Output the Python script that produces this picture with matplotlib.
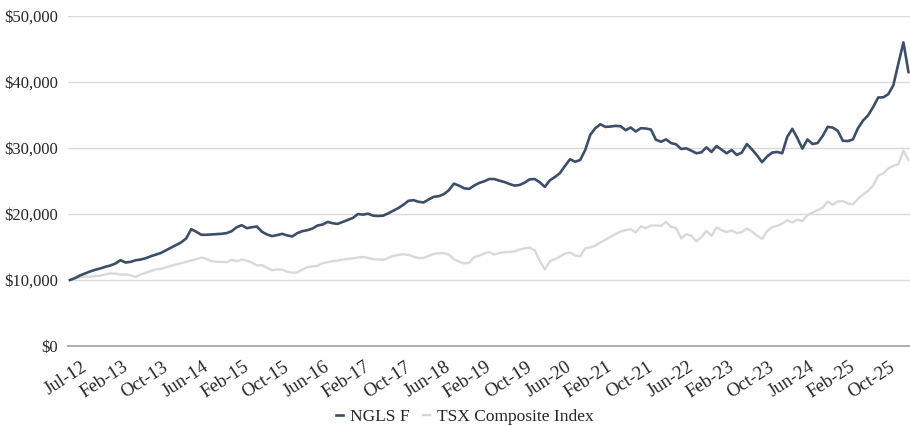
import matplotlib.pyplot as plt
from matplotlib.transforms import ScaledTranslation
from matplotlib.ticker import FuncFormatter

# Growth of $10,000, monthly values
ngls = [
    10000, 10300, 10700, 11000, 11300, 11550, 11750, 12000, 12200, 12500,
    13000, 12650, 12750, 13000, 13100, 13300, 13600, 13850, 14100, 14500,
    14900, 15300, 15700, 16300, 17700, 17300, 16850, 16850, 16900, 16950,
    17000, 17100, 17400, 18000, 18300, 17850, 18000, 18100, 17300, 16900,
    16650, 16800, 17000, 16750, 16600, 17100, 17400, 17550, 17800, 18250,
    18400, 18800, 18600, 18500, 18800, 19100, 19400, 20000, 19900, 20050,
    19750, 19700, 19750, 20100, 20500, 20900, 21400, 22000, 22100, 21850,
    21750, 22200, 22600, 22700, 23000, 23600, 24600, 24300, 23900, 23800,
    24300, 24700, 24950, 25300, 25300, 25050, 24850, 24550, 24300, 24400,
    24750, 25250, 25300, 24800, 24100, 25100, 25600, 26200, 27300, 28300,
    27920, 28180, 29700, 32000, 33000, 33600, 33200, 33250, 33350, 33300,
    32700, 33100, 32500, 33000, 32950, 32800, 31250, 30950, 31300, 30750,
    30550, 29850, 29950, 29600, 29200, 29350, 30100, 29400, 30300, 29750,
    29200, 29700, 28950, 29300, 30600, 29800, 28900, 27850, 28700, 29300,
    29400, 29200, 31700, 32900, 31500, 29900, 31300, 30600, 30750, 31800,
    33200, 33100, 32600, 31100, 31050, 31300, 33000, 34150, 34950, 36200,
    37650, 37680, 38150, 39500, 42800, 46000, 41500,
]

tsx = [
    10000, 10200, 10400, 10500, 10500, 10600, 10650, 10850, 11000, 10950,
    10800, 10850, 10700, 10450, 10850, 11100, 11350, 11600, 11700, 11900,
    12150, 12350, 12550, 12750, 12950, 13150, 13400, 13200, 12850, 12750,
    12750, 12700, 13050, 12850, 13100, 12950, 12650, 12200, 12250, 11850,
    11500, 11600, 11550, 11250, 11100, 11150, 11600, 11950, 12050, 12150,
    12550, 12700, 12850, 12950, 13100, 13200, 13280, 13400, 13500, 13350,
    13150, 13100, 13050, 13350, 13650, 13800, 13900, 13800, 13550, 13300,
    13350, 13650, 13950, 14050, 14050, 13850, 13150, 12800, 12500, 12600,
    13450, 13700, 14000, 14250, 13850, 14100, 14200, 14250, 14350, 14600,
    14800, 14900, 14500, 12900, 11600, 12850, 13150, 13550, 14000, 14150,
    13700, 13600, 14800, 14950, 15200, 15700, 16100, 16550, 16950, 17350,
    17550, 17700, 17200, 18150, 17850, 18250, 18250, 18200, 18800, 18050,
    17850, 16300, 16950, 16700, 15850, 16500, 17450, 16700, 17950, 17550,
    17250, 17500, 17100, 17250, 17800, 17350, 16750, 16200, 17400, 18000,
    18200, 18550, 19050, 18700, 19150, 18900, 19850, 20200, 20600, 20950,
    21900, 21400, 21900, 21950, 21600, 21450, 22300, 22950, 23500, 24300,
    25800, 26150, 26900, 27300, 27550, 29600, 28200,
]

tick_labels = ["Jul-12", "Feb-13", "Oct-13", "Jun-14", "Feb-15", "Oct-15",
               "Jun-16", "Feb-17", "Oct-17", "Jun-18", "Feb-19", "Oct-19",
               "Jun-20", "Feb-21", "Oct-21", "Jun-22", "Feb-23", "Oct-23",
               "Jun-24", "Feb-25", "Oct-25"]
tick_step = 8

plt.rcParams['font.family'] = ['Liberation Serif', 'DejaVu Serif']

fig = plt.figure(figsize=(9.1, 4.26), dpi=100)
ax = fig.add_axes([68 / 910, 80 / 426, 842 / 910, 330 / 426])

x = range(len(ngls))
ax.plot(x, tsx, color='#D9D9D9', lw=1.7, label='TSX Composite Index', zorder=3)
ax.plot(x, ngls, color='#3C4E68', lw=1.9, label='NGLS F', zorder=4)

ax.set_xlim(-0.4, 166.3)
ax.set_ylim(0, 50000)
ax.set_yticks(range(0, 50001, 10000))
ax.yaxis.set_major_formatter(FuncFormatter(lambda v, p: f"${v:,.0f}"))
ax.grid(axis='y', color='#D9D9D9', lw=1)
ax.set_axisbelow(True)

for s in ['top', 'right', 'left']:
    ax.spines[s].set_visible(False)
ax.spines['bottom'].set_color('#A6A6A6')
ax.spines['bottom'].set_linewidth(1.3)
ax.spines['bottom'].set_zorder(2)

ax.set_xticks([i * tick_step for i in range(len(tick_labels))])
ax.set_xticklabels(tick_labels)
ax.tick_params(axis='x', length=0, pad=9, labelsize=13.5, labelcolor='#262626')
ax.tick_params(axis='y', length=0, pad=7, labelsize=12, labelcolor='#262626')
offset = ScaledTranslation(0.11, 0, fig.dpi_scale_trans)
for lab in ax.get_xticklabels():
    lab.set_rotation(33)
    lab.set_ha('right')
    lab.set_va('top')
    lab.set_rotation_mode('anchor')
    lab.set_transform(lab.get_transform() + offset)

handles, labels = ax.get_legend_handles_labels()
ax.legend(handles[::-1], labels[::-1], loc='center', ncol=2,
          bbox_to_anchor=(465 / 910, 1 - 417 / 426), bbox_transform=fig.transFigure,
          frameon=False, fontsize=12.5, handlelength=0.4, handletextpad=0.4,
          columnspacing=0.8, labelcolor='#262626')

fig.savefig('out.png', dpi=100)
